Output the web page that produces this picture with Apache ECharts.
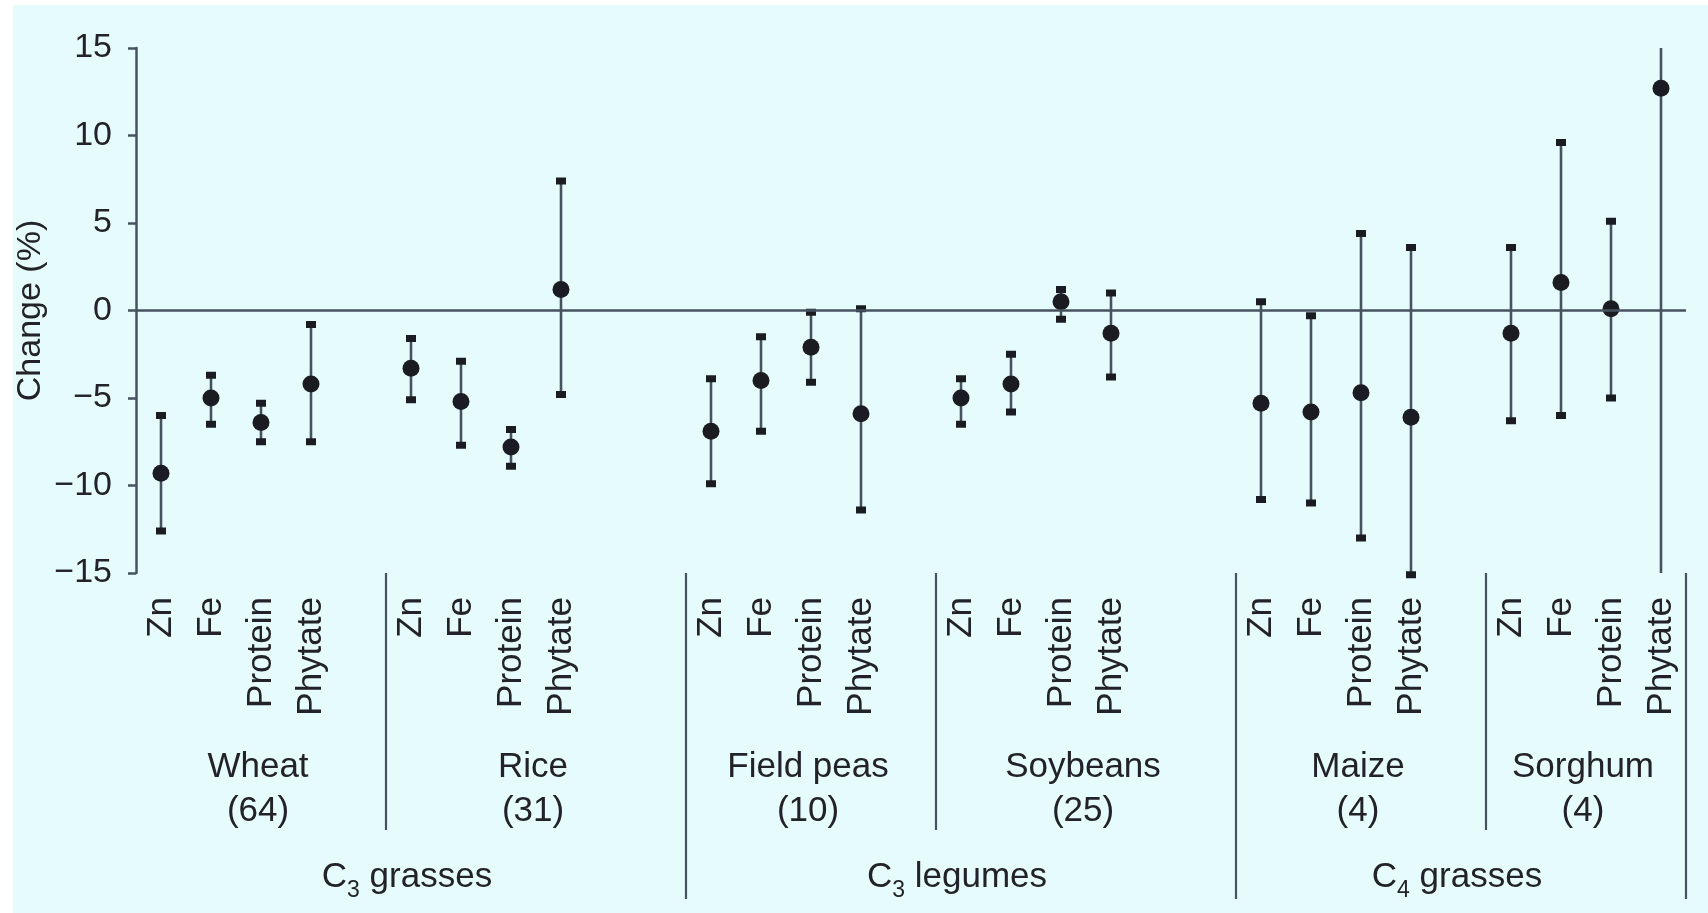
<!DOCTYPE html>
<html><head><meta charset="utf-8">
<script src="https://cdn.jsdelivr.net/npm/echarts@6/dist/echarts.min.js"></script>
<style>
html,body{margin:0;padding:0;background:#fff;width:1708px;height:913px;overflow:hidden}
#chart{position:absolute;left:13px;top:5px;width:1695px;height:908px;background:#e6fcfc}
</style></head><body><div id="chart"></div>
<script>
// ---- data ----
const categories = ['Zn','Fe','Protein','Phytate','',
                    'Zn','Fe','Protein','Phytate','','',
                    'Zn','Fe','Protein','Phytate','',
                    'Zn','Fe','Protein','Phytate','','',
                    'Zn','Fe','Protein','Phytate','',
                    'Zn','Fe','Protein','Phytate'];
const crops = ['Wheat','Rice','Field peas','Soybeans','Maize','Sorghum'];
const cropCounts = ['(64)','(31)','(10)','(25)','(4)','(4)'];
const cropClasses = ['C_3 grasses','C_3 grasses','C_3 legumes','C_3 legumes','C_4 grasses','C_4 grasses'];
const meanChange = [
  -9.3, -5.0, -6.4, -4.2,
  -3.3, -5.2, -7.8,  1.2,
  -6.9, -4.0, -2.1, -5.9,
  -5.0, -4.2,  0.5, -1.3,
  -5.3, -5.8, -4.7, -6.1,
  -1.3,  1.6,  0.1, 12.7
];
const lowerCI = [
  -12.6, -6.5, -7.5, -7.5,
  -5.1, -7.7, -8.9, -4.8,
  -9.9, -6.9, -4.1, -11.4,
  -6.5, -5.8, -0.5, -3.8,
  -10.8, -11.0, -13.0, -15.1,
  -6.3, -6.0, -5.0, -16.0
];
const upperCI = [
  -6.0, -3.7, -5.3, -0.8,
  -1.6, -2.9, -6.8, 7.4,
  -3.9, -1.5, -0.1, 0.1,
  -3.9, -2.5, 1.2, 1.0,
  0.5, -0.3, 4.4, 3.6,
  3.6, 9.6, 5.1, 41.0
];
const yMin = -15, yMax = 15, yStep = 5;

// ---- styles ----
const FONT = 'Liberation Sans, Arial, sans-serif';
const TEXT = '#222228';
const LINE = '#46535f';
const DOT = '#1b1c22';

const slots = categories.map((c, i) => c ? i : -1).filter(i => i >= 0);
const cropStart = crops.map((c, i) => slots[i * 4]);
const cropEnd = crops.map((c, i) => i < crops.length - 1 ? slots[(i + 1) * 4] : categories.length);

function richClass(label) {
  const m = label.match(/^(.*?)_(\d)(.*)$/);
  return '{b|' + m[1] + '}{s|' + m[2] + '}{b|' + m[3] + '}';
}

function renderBar(params, api) {
  const x = api.value(0), lo = api.value(1), hi = api.value(2);
  const cl = v => Math.max(yMin, Math.min(yMax, v));
  const pT = api.coord([x, cl(hi)]);
  const pB = api.coord([x, cl(lo)]);
  const children = [{type: 'line', shape: {x1: pT[0], y1: pT[1], x2: pB[0], y2: pB[1]},
                     style: {stroke: LINE, lineWidth: 2.6}}];
  [lo, hi].forEach(v => {
    if (v >= yMin - 0.5 && v <= yMax + 0.5) {
      const p = api.coord([x, v]);
      children.push({type: 'rect', shape: {x: p[0] - 5, y: p[1] - 3.5, width: 10, height: 7},
                     style: {fill: DOT}});
    }
  });
  return {type: 'group', children};
}

function renderGroups(params, api) {
  const i = api.value(3);
  const cs = params.coordSys;
  const bottom = cs.y + cs.height;
  const band = api.size([1, 0])[0];
  const x0 = api.coord([api.value(0), 0])[0] - band / 2;
  const x1 = api.coord([api.value(2), 0])[0] + band / 2;
  const ls = {stroke: LINE, lineWidth: 2.2};
  const children = [];
  if (i > 0) {
    const major = cropClasses[i] !== cropClasses[i - 1];
    children.push({type: 'line', shape: {x1: x0, y1: bottom, x2: x0, y2: bottom + (major ? 326 : 257)}, style: ls});
  }
  if (i === crops.length - 1) {
    children.push({type: 'line', shape: {x1: x1, y1: bottom, x2: x1, y2: bottom + 326}, style: ls});
  }
  const cx = (x0 + x1) / 2 - 3;
  children.push({type: 'text', style: {text: crops[i], x: cx, y: bottom + 194, align: 'center',
    verticalAlign: 'middle', fontSize: 35, fontFamily: FONT, fill: TEXT}});
  children.push({type: 'text', style: {text: cropCounts[i], x: cx, y: bottom + 238, align: 'center',
    verticalAlign: 'middle', fontSize: 35, fontFamily: FONT, fill: TEXT}});
  if (i === 0 || cropClasses[i] !== cropClasses[i - 1]) {
    let j = i;
    while (j + 1 < crops.length && cropClasses[j + 1] === cropClasses[i]) j++;
    const xe = api.coord([cropEnd[j] - 1, 0])[0] + band / 2;
    children.push({type: 'text', style: {
      text: richClass(cropClasses[i]), x: (x0 + xe) / 2 - 4, y: bottom + 304,
      align: 'center', verticalAlign: 'middle',
      rich: {
        b: {fontSize: 35, fontFamily: FONT, fill: TEXT, lineHeight: 50},
        s: {fontSize: 23, fontFamily: FONT, fill: TEXT, lineHeight: 23, verticalAlign: 'bottom'}
      }
    }});
  }
  return {type: 'group', children};
}

const chart = echarts.init(document.getElementById('chart'));
chart.setOption({
  animation: false,
  grid: {left: 123, top: 43, width: 1550, height: 525, containLabel: false, outerBoundsMode: 'none'},
  xAxis: {
    type: 'category', data: categories, boundaryGap: true,
    axisLine: {show: false, onZero: false}, axisTick: {show: false},
    axisLabel: {interval: 0, rotate: 90, margin: 24, fontSize: 35, fontFamily: FONT, color: TEXT},
    splitLine: {show: false}
  },
  yAxis: {
    type: 'value', min: yMin, max: yMax, interval: yStep,
    name: 'Change (%)', nameLocation: 'middle', nameGap: 88, nameMoveOverlap: false,
    nameTextStyle: {fontSize: 34, fontFamily: FONT, color: TEXT},
    axisLine: {show: true, lineStyle: {color: LINE, width: 2.5}},
    axisTick: {show: true, length: 8, lineStyle: {color: LINE, width: 2.5}},
    axisLabel: {margin: 24, fontSize: 34, fontFamily: FONT, color: TEXT,
      formatter: v => String(v).replace('-', '\u2212')},
    splitLine: {show: false}
  },
  series: [
    {
      type: 'custom', name: 'CI', renderItem: renderBar, z: 2,
      encode: {x: 0, y: [1, 2]},
      data: slots.map((s, k) => [s, lowerCI[k], upperCI[k]]),
      markLine: {silent: true, symbol: 'none', label: {show: false},
        lineStyle: {color: LINE, width: 2.5, type: 'solid'}, data: [{yAxis: 0}]}
    },
    {
      type: 'scatter', name: 'Mean', z: 4, symbol: 'circle', symbolSize: 17,
      itemStyle: {color: DOT, opacity: 1},
      data: slots.map((s, k) => [s, meanChange[k]])
    },
    {
      type: 'custom', name: 'groups', renderItem: renderGroups, z: 1, clip: false, silent: true,
      encode: {x: [0, 2], y: 1},
      data: crops.map((c, i) => [cropStart[i], 0, cropEnd[i] - 1, i])
    }
  ]
});
</script></body></html>
